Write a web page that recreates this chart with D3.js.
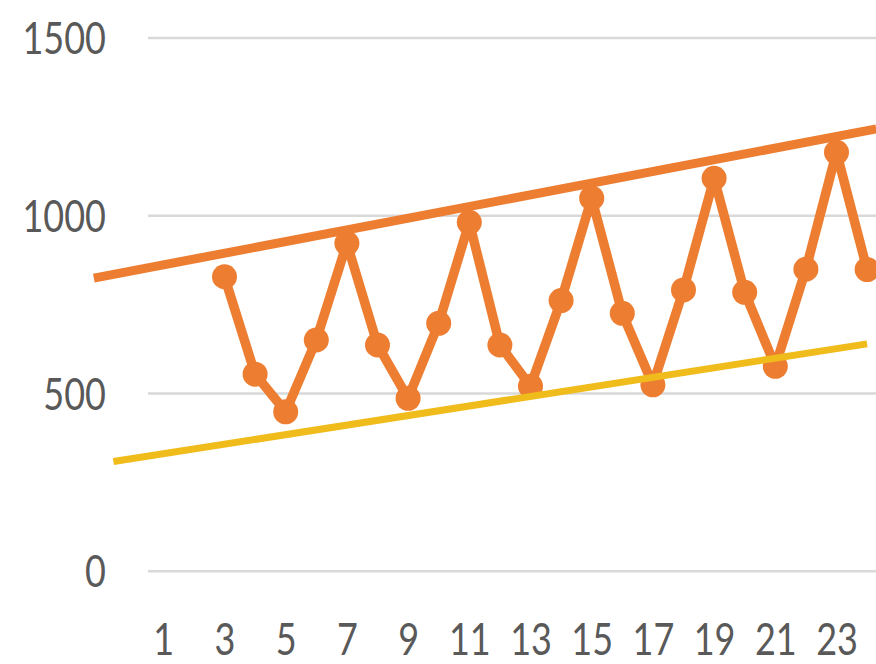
<!DOCTYPE html>
<html>
<head>
<meta charset="utf-8">
<script src="https://cdn.jsdelivr.net/npm/d3@7"></script>
<style>
  html, body { margin: 0; padding: 0; background: #ffffff; }
  svg { display: block; }
</style>
</head>
<body>
<svg id="chart" width="876" height="664"></svg>
<script>
// Category axis (1..24) and the zig-zag series; first two periods have no value
const categories = [1, 2, 3, 4, 5, 6, 7, 8, 9, 10, 11, 12, 13, 14, 15, 16, 17, 18, 19, 20, 21, 22, 23, 24];
const values = [null, null, 827, 553, 447, 649, 921, 635, 485, 696, 980, 635, 519, 760,
                1048, 724, 523, 790, 1104, 783, 575, 848, 1177, 847];

// Channel lines drawn over the series: [category position, value]
const upperChannel = [[-1.27, 823], [24.3, 1243]];
const lowerChannel = [[-0.63, 307], [24.0, 638]];

// Axis labels
const xTickLabels = [1, 3, 5, 7, 9, 11, 13, 15, 17, 19, 21, 23];
const yTicks = [0, 500, 1000, 1500];

const orange = '#ED7D31';
const gold = '#F0BC1B';
const gridColor = '#D9D9D9';
const textColor = '#595959';
const fontFamily = 'Lato, "Open Sans", "DejaVu Sans", sans-serif';
const fontSize = 45;
const squeeze = 0.8;   // horizontal squeeze of the tall narrow digits

const svg = d3.select('#chart');

// Each category occupies one band; categories sit at band centres
const x = d3.scaleLinear().domain([0.5, 24.5]).range([148, 882.4]);
const y = d3.scaleLinear().domain([0, 1500]).range([570.7, 37.5]);

// Horizontal gridlines and value labels
const yAxis = svg.append('g')
  .attr('transform', `translate(${x.range()[0]},0)`)
  .call(d3.axisLeft(y)
    .tickValues(yTicks)
    .tickSize(-(x.range()[1] - x.range()[0]))
    .tickFormat(d3.format('d')));
yAxis.select('.domain').remove();
yAxis.attr('font-family', fontFamily).attr('font-size', fontSize);
yAxis.selectAll('.tick line')
  .attr('stroke', gridColor)
  .attr('stroke-width', 2.6);
yAxis.selectAll('.tick text')
  .attr('x', 0)
  .attr('dy', '0.358em')
  .attr('fill', textColor)
  .attr('text-anchor', 'end')
  .attr('transform', `translate(-42,0) scale(${squeeze},1)`);

// Category labels (every other period)
const xAxis = svg.append('g')
  .attr('transform', 'translate(0,655)')
  .call(d3.axisBottom(x).tickValues(xTickLabels).tickSize(0).tickFormat(d3.format('d')));
xAxis.select('.domain').remove();
xAxis.attr('font-family', fontFamily).attr('font-size', fontSize);
xAxis.selectAll('.tick text')
  .attr('y', 0)
  .attr('dy', 0)
  .attr('fill', textColor)
  .attr('transform', `scale(${squeeze},1)`);

// Series line with markers
const line = d3.line()
  .defined(d => d.v != null)
  .x(d => x(d.c))
  .y(d => y(d.v));
const series = categories.map((c, i) => ({ c, v: values[i] }));

svg.append('path')
  .datum(series)
  .attr('d', line)
  .attr('fill', 'none')
  .attr('stroke', orange)
  .attr('stroke-width', 9.5)
  .attr('stroke-linejoin', 'round')
  .attr('stroke-linecap', 'round');

svg.append('g')
  .selectAll('circle')
  .data(series.filter(d => d.v != null))
  .join('circle')
  .attr('cx', d => x(d.c))
  .attr('cy', d => y(d.v))
  .attr('r', 12.5)
  .attr('fill', orange);

// Upper and lower channel lines
const channel = d3.line().x(d => x(d[0])).y(d => y(d[1]));
svg.append('path')
  .datum(upperChannel)
  .attr('d', channel)
  .attr('fill', 'none')
  .attr('stroke', orange)
  .attr('stroke-width', 9);
svg.append('path')
  .datum(lowerChannel)
  .attr('d', channel)
  .attr('fill', 'none')
  .attr('stroke', gold)
  .attr('stroke-width', 7);
</script>
</body>
</html>
